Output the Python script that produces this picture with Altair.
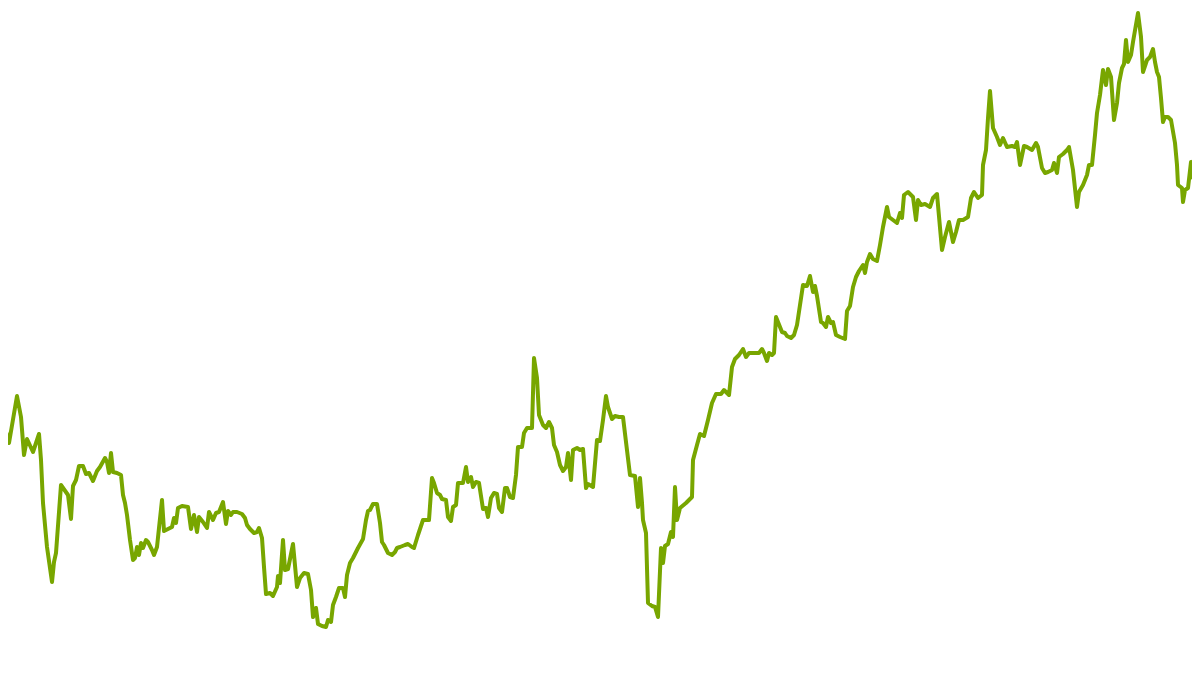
import altair as alt
import pandas as pd

# sample positions (trading-day index in screen units) and level values
day = [0,5,9,17,21,24,27,33,39,41,43,47,52,54,56,61,68,71,73,76,79,83,86,89,93,97,100,105,107,109,111,113,117,121,123,125,127,130,133,135,137,139,141,143,146,148,152,154,157,159,162,164,168,172,174,176,178,182,188,191,194,197,199,203,207,209,213,216,219,223,226,228,231,233,237,242,245,247,250,254,257,259,262,264,266,270,273,277,278,280,283,285,288,293,297,300,304,308,311,313,316,318,322,326,328,331,333,336,339,343,345,347,350,353,358,363,366,368,370,373,377,380,382,384,388,392,395,397,400,405,408,412,414,418,423,429,432,434,437,440,442,446,448,451,453,456,458,463,466,468,471,473,476,479,483,486,488,491,494,497,499,502,505,507,510,513,516,518,522,524,527,532,534,537,539,543,546,549,552,554,557,560,563,566,568,571,573,577,580,583,586,588,593,597,600,603,606,608,612,615,619,623,626,630,635,638,640,642,643,646,648,652,655,658,661,663,665,668,671,673,675,677,680,686,692,693,697,700,704,708,712,716,721,724,729,732,735,739,743,746,749,754,759,762,764,767,769,772,774,776,778,782,785,787,791,794,797,800,803,807,810,813,815,817,821,823,826,828,831,833,836,840,845,847,850,853,856,859,863,865,867,870,873,877,880,883,887,889,893,897,900,902,904,908,913,916,918,921,925,930,933,937,942,945,949,953,956,959,963,968,971,974,978,982,983,986,988,990,993,997,1000,1003,1007,1012,1015,1017,1020,1024,1027,1032,1036,1038,1042,1045,1048,1052,1054,1057,1059,1063,1067,1069,1073,1077,1079,1083,1087,1089,1092,1095,1097,1100,1103,1106,1108,1111,1114,1117,1119,1122,1124,1126,1128,1131,1133,1138,1141,1143,1147,1150,1153,1155,1157,1159,1161,1163,1165,1168,1171,1175,1177,1178,1182,1183,1185,1188,1191,1193,1194,1197,1199]

# depth below the top (larger = lower on the chart)
level = [395,428,443,396,417,455,439,452,434,460,503,547,582,562,553,485,495,519,486,480,466,466,474,473,481,471,467,458,462,473,453,472,473,475,495,503,515,540,560,558,547,555,543,548,540,542,550,555,547,528,500,531,529,527,518,523,508,506,507,529,515,532,517,522,528,512,520,513,512,502,524,511,515,512,512,514,518,525,529,533,532,528,538,567,594,593,596,587,576,583,540,570,569,544,587,578,573,574,590,617,608,624,626,627,620,622,605,597,588,588,597,575,563,558,548,539,520,511,510,504,504,523,542,545,553,555,552,548,547,545,544,547,548,535,520,520,478,483,493,495,499,500,517,521,507,505,483,483,467,482,477,487,482,483,509,508,517,498,493,494,508,512,488,488,497,498,475,447,447,433,428,428,358,378,415,425,428,422,428,445,452,465,471,467,453,480,450,448,450,449,488,484,487,440,441,420,396,407,419,416,417,417,442,475,476,507,478,503,520,533,603,606,607,617,548,563,546,544,532,537,487,520,508,503,497,460,445,434,436,420,403,394,394,390,395,367,359,355,349,357,353,353,353,349,353,361,353,355,353,317,322,332,333,336,338,335,325,305,285,286,276,292,286,296,322,323,327,317,323,322,335,337,339,311,306,287,277,271,265,273,262,254,259,261,245,227,207,217,220,223,213,218,195,192,197,220,200,205,204,207,198,194,250,237,222,242,232,220,220,217,198,192,198,195,165,150,118,91,128,137,145,138,147,146,147,142,165,146,147,150,143,147,168,173,172,170,163,173,157,154,150,147,170,207,192,185,175,165,165,135,113,95,70,85,69,77,120,103,83,68,64,40,62,55,42,13,37,72,60,57,49,62,72,77,98,122,117,117,120,143,165,185,188,202,190,188,162,178,158,185,158]

df = pd.DataFrame({"day": day, "level": level})

chart = (
    alt.Chart(df)
    .mark_line(color="#78a600", strokeWidth=4, clip=True, strokeJoin="round")
    .encode(
        x=alt.X("day:Q", scale=alt.Scale(domain=[8, 1192], nice=False, zero=False), axis=None),
        y=alt.Y("level:Q", scale=alt.Scale(domain=[8, 658], nice=False, zero=False, reverse=True), axis=None),
    )
    .properties(width=1184, height=650, padding=0, autosize=alt.AutoSizeParams(type="none"))
    .configure(background="white", view=alt.ViewConfig(stroke=None))
)

chart.save("out.html", embed_options={"renderer": "svg", "actions": False})
